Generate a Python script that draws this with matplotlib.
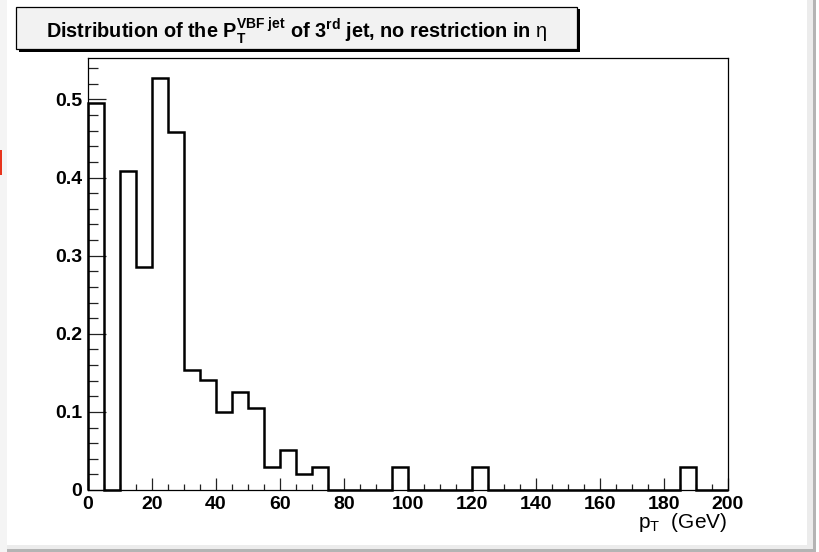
import numpy as np
import matplotlib
matplotlib.use("Agg")
import matplotlib.pyplot as plt
from matplotlib.patches import Rectangle
from matplotlib.ticker import MultipleLocator, FixedLocator

# ---- data ----
bin_width = 5
x_min, x_max = 0, 200
bin_values = [0.495, 0.0, 0.408, 0.285, 0.527, 0.458, 0.154, 0.141, 0.100, 0.125,
              0.105, 0.030, 0.051, 0.021, 0.030, 0.0, 0.0, 0.0, 0.0, 0.030,
              0.0, 0.0, 0.0, 0.0, 0.030, 0.0, 0.0, 0.0, 0.0, 0.0,
              0.0, 0.0, 0.0, 0.0, 0.0, 0.0, 0.0, 0.030, 0.0, 0.0]
x_ticks = [0, 20, 40, 60, 80, 100, 120, 140, 160, 180, 200]
y_ticks = [0, 0.1, 0.2, 0.3, 0.4, 0.5]
y_tick_labels = ["0", "0.1", "0.2", "0.3", "0.4", "0.5"]
title_text = (r"Distribution of the P$_\mathbf{T}^\mathbf{VBF\ jet}$ of 3$^\mathbf{rd}$ "
              r"jet, no restriction in $\mathrm{\eta}$")
x_label = r"p$_\mathrm{T}$  (GeV)"

plt.rcParams["font.family"] = ["Liberation Sans", "DejaVu Sans"]
plt.rcParams["mathtext.fontset"] = "custom"
plt.rcParams["mathtext.rm"] = "Liberation Sans"
plt.rcParams["mathtext.bf"] = "Liberation Sans:bold"
plt.rcParams["mathtext.it"] = "Liberation Sans:italic"
plt.rcParams["mathtext.sf"] = "Liberation Sans"

W, H = 819, 552
fig = plt.figure(figsize=(W / 100, H / 100), dpi=100)
fig.patch.set_facecolor("white")

def fx(px):
    return px / W

def fy(py):
    return 1 - py / H

# canvas borders (screenshot frame)
fig.patches.append(Rectangle((0, 0), fx(7), 1, transform=fig.transFigure,
                             facecolor="#f4f4f4", edgecolor="none", zorder=0))
fig.patches.append(Rectangle((fx(807), fy(549)), fx(7), fy(0) - fy(549), transform=fig.transFigure,
                             facecolor="#ececec", edgecolor="none", zorder=0))
fig.patches.append(Rectangle((fx(813), fy(551)), fx(3), fy(0) - fy(551), transform=fig.transFigure,
                             facecolor="#b4b4b4", edgecolor="none", zorder=0))
fig.patches.append(Rectangle((fx(7), fy(549)), fx(807) - fx(7), fy(545) - fy(549), transform=fig.transFigure,
                             facecolor="#ececec", edgecolor="none", zorder=0))
fig.patches.append(Rectangle((fx(7), fy(552)), fx(809), fy(549) - fy(552), transform=fig.transFigure,
                             facecolor="#b4b4b4", edgecolor="none", zorder=0))
fig.patches.append(Rectangle((0, fy(175)), fx(2), fy(150) - fy(175), transform=fig.transFigure,
                             facecolor="#e8341c", edgecolor="none", zorder=0))

# axes
ax = fig.add_axes([fx(87.7), fy(490), fx(727.7) - fx(87.7), fy(57.7) - fy(490)])
edges = np.arange(x_min, x_max + bin_width, bin_width)
vals = np.array(bin_values)
ax.stairs(vals, edges, color="black", linewidth=1.8, baseline=0, clip_on=False, zorder=3)

ax.set_xlim(x_min, x_max)
ax.set_ylim(0, 1.05 * vals.max())

for s in ax.spines.values():
    s.set_linewidth(0.9)
    s.set_color("black")

ax.xaxis.set_major_locator(FixedLocator(x_ticks))
ax.xaxis.set_minor_locator(MultipleLocator(bin_width))
ax.yaxis.set_major_locator(FixedLocator(y_ticks))
ax.yaxis.set_minor_locator(MultipleLocator(0.02))
ax.set_yticklabels(y_tick_labels)

ax.tick_params(axis="both", which="both", direction="in", top=False, right=False,
               width=0.9, color="#222222")
ax.tick_params(axis="x", which="major", length=9, pad=4)
ax.tick_params(axis="x", which="minor", length=4.5)
ax.tick_params(axis="y", which="major", length=13, pad=4)
ax.tick_params(axis="y", which="minor", length=7)
for lab in ax.get_xticklabels() + ax.get_yticklabels():
    lab.set_fontweight("bold")
    lab.set_fontsize(14)

# title box with shadow
bx0, by0, bx1, by1 = 16, 7, 577, 49
fig.patches.append(Rectangle((fx(bx0 + 2.5), fy(by1 + 2.5)), fx(bx1) - fx(bx0), fy(by0) - fy(by1),
                             transform=fig.transFigure, facecolor="black", edgecolor="none", zorder=1))
fig.patches.append(Rectangle((fx(bx0), fy(by1)), fx(bx1) - fx(bx0), fy(by0) - fy(by1),
                             transform=fig.transFigure, facecolor="#f2f2f2", edgecolor="black",
                             linewidth=0.9, zorder=2))
fig.text(fx((bx0 + bx1) / 2), fy(31), title_text, ha="center", va="center",
         fontsize=14.3, fontweight="bold", zorder=3)

# x label
fig.text(fx(727), fy(523), x_label, ha="right", va="center", fontsize=15)

fig.savefig("out.png", dpi=100)
